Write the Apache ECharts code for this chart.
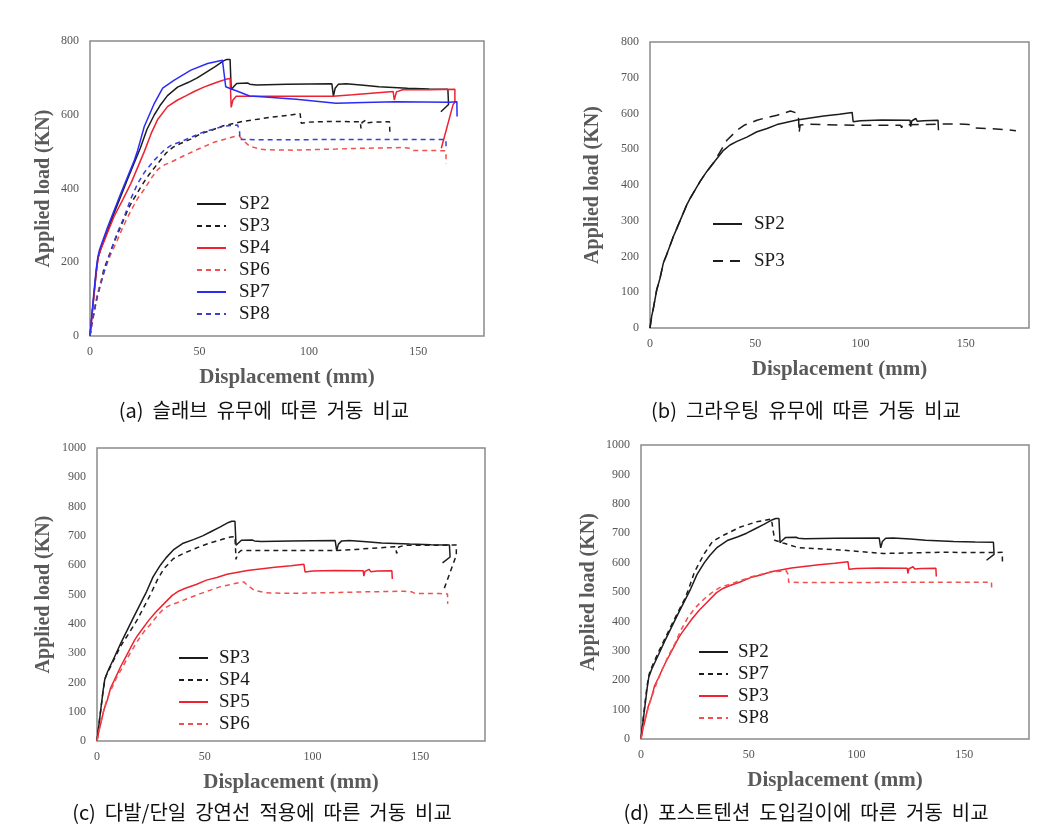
<!DOCTYPE html>
<html><head><meta charset="utf-8">
<script src="https://cdn.jsdelivr.net/npm/echarts@6/dist/echarts.min.js"></script>
<style>html,body{margin:0;padding:0;background:#fff}#c{width:1059px;height:834px}</style>
</head><body><div id="c"></div>
<script>
// ---- Data (displacement mm, load kN) ----
var curve750 = [[0,0],[0.8,50],[1.8,110],[2.8,170],[3.6,210],[5,238],[8,285],[11,333],[17,423],[23,510],[26,560],[29.4,600],[32,625],[35.4,652],[40,675],[45,688],[49,700],[53,715],[57,730],[61,746],[62.5,750],[64,750],[64.5,668],[65.5,675],[67,685],[72,686],[73,683],[76,681],[90,683],[110.5,684],[111.2,650],[112,672],[113.5,683],[117,684],[125,680],[132,676],[145,672],[155,670],[163.5,669],[163.8,628],[160.3,608]];
var curve700 = [[0,0],[0.8,50],[1.8,110],[2.8,170],[3.8,215],[5,235],[8,280],[11,324],[15,370],[18.7,414],[24.8,500],[28,550],[31,588],[35.4,622],[40,640],[44,652],[47.6,663],[52,675],[55.2,682],[59,690],[62,696],[64,698],[64.5,620],[65.3,640],[66.8,650],[80,650],[100,650],[111,650],[120,654],[130,659],[138.5,663],[139,640],[140,662],[142.8,668],[155,668],[166.7,669],[166.7,634],[165.9,628],[160.5,509]];
var curve600 = [[0,0],[0.8,33],[1.6,55],[3.2,107],[4.8,140],[6.3,181],[7.9,205],[11.1,256],[12.7,278],[17.5,345],[19,362],[23.8,410],[27,438],[30.2,462],[34.9,497],[38,512],[41.3,522],[46,534],[50.8,549],[55.6,558],[60.3,569],[69.8,582],[82.5,593],[90,598],[96,603],[96.5,577],[100,580],[110,582],[123.5,581],[123.8,563],[124.3,579],[126.2,586],[127,578],[130,580],[136.8,581],[137,553]];
var curve610 = [[0,0],[0.8,33],[1.6,55],[3.2,107],[4.8,140],[6.3,181],[7.9,205],[11.1,256],[12.7,278],[17.5,345],[19,362],[23.8,410],[27,438],[30.2,462],[33,490],[36.5,525],[41.3,553],[45,568],[50.8,581],[55,588],[60.3,595],[64,602],[66.7,607],[70.3,600],[70.6,583],[70.8,545],[71.3,568],[75,570],[96.8,567],[119,567],[119.5,560],[120,568],[136.5,570],[145,571],[151.6,569],[154,560],[160,558],[168.3,555],[173.8,552]];
var curve545 = [[0,0],[1.5,55],[3,100],[4.5,140],[6.2,170],[9,215],[12.4,259],[15,295],[18.6,339],[22,375],[24.8,398],[28,428],[31,452],[34,464],[37.2,472],[43.3,490],[48,503],[52.6,515],[57,526],[61.9,534],[66,541],[68.1,543],[70,530],[72.9,515],[77.4,507],[80.5,505],[92.9,504],[112.5,507],[123.8,509],[142.4,511],[146,509],[147.8,503],[158.9,503],[162.6,502],[162.7,468]];
var curve748 = [[0,0],[0.8,55],[1.8,120],[2.8,180],[3.6,215],[4.3,233],[8.1,296],[14.1,387],[20.3,477],[21.8,504],[24.8,568],[29.4,631],[33.2,672],[38.5,694],[46.1,721],[53.7,739],[60.5,748],[61.2,745],[62,676],[65.8,667],[66.8,665],[72.9,651],[80,648],[94.2,642],[112.4,631],[125,633],[139.8,635],[164.1,634],[167.6,635],[167.7,595]];
var curve572 = [[0,0],[1,40],[2,70],[3.5,110],[5,143],[7,185],[9.6,233],[12.5,280],[15.7,324],[18.5,370],[21.8,414],[25,445],[29.4,477],[33.9,504],[37,517],[41.5,527],[47,541],[52.2,554],[57,562],[61.3,569],[67.4,572],[68.3,559],[68.5,533],[80,532],[120,533],[158,533],[162.6,533],[162.7,505]];

var namesA = ['SP2','SP3','SP4','SP6','SP7','SP8'];
var namesB = ['SP2','SP3'];
var namesC = ['SP3','SP4','SP5','SP6'];
var namesD = ['SP2','SP7','SP3','SP8'];
var captions = ['(a)  슬래브  유무에  따른  거동  비교','(b)  그라우팅  유무에  따른  거동  비교','(c)  다발/단일  강연선  적용에  따른  거동  비교','(d)  포스트텐션  도입길이에  따른  거동  비교'];
var xMax = 180, xStep = 50;
var yMaxes = [800, 800, 1000, 1000];
var ySteps = [200, 100, 100, 100];

// ---- Styling ----
var BLACK = '#1c1c1c', RED = '#ee2230', RED2 = '#f05050', BLUE = '#2b2bf5', BLUE2 = '#3c3cd8';
var SHORT = [5, 4], LONG = [10, 7];
var serif = 'Liberation Serif';

var panels = [
  {grid:{left:90, top:41, width:394, height:295}, gap:36, legend:{left:196, top:194, gap:2, pad:8},
   names:namesA, curves:[curve750,curve600,curve700,curve545,curve748,curve572],
   colors:[BLACK,BLACK,RED,RED2,BLUE,BLUE2], types:['solid',SHORT,'solid',SHORT,'solid',SHORT]},
  {grid:{left:650, top:42, width:379, height:286}, gap:47, legend:{left:712, top:214, gap:17, pad:7},
   names:namesB, curves:[curve600,curve610],
   colors:[BLACK,BLACK], types:['solid',LONG]},
  {grid:{left:97, top:448, width:388, height:293}, gap:43, legend:{left:178, top:648, gap:2, pad:6},
   names:namesC, curves:[curve750,curve700,curve600,curve545],
   colors:[BLACK,BLACK,RED,RED2], types:['solid',SHORT,'solid',SHORT]},
  {grid:{left:641, top:445, width:388, height:294}, gap:42, legend:{left:698, top:642, gap:2, pad:5},
   names:namesD, curves:[curve750,curve748,curve600,curve572],
   colors:[BLACK,BLACK,RED,RED2], types:['solid',SHORT,'solid',SHORT]}
];

var grids = [], xAxes = [], yAxes = [], series = [], legends = [], graphics = [];
var tags = ['a','b','c','d'];
var plain = function (v) { return String(v); };
panels.forEach(function (p, i) {
  grids.push(Object.assign({show:true, borderColor:'#8a8a8a', borderWidth:1.5, backgroundColor:'#fff'}, p.grid));
  xAxes.push({type:'value', gridIndex:i, min:0, max:xMax, interval:xStep,
    name:'Displacement (mm)', nameLocation:'middle', nameGap:31,
    nameTextStyle:{fontFamily:serif, fontWeight:'bold', fontSize:21, color:'#5a5a5a'},
    axisLine:{show:false}, axisTick:{show:false}, splitLine:{show:false},
    axisLabel:{showMaxLabel:false, margin:10, fontFamily:serif, fontSize:12, color:'#555', formatter:plain}});
  yAxes.push({type:'value', gridIndex:i, min:0, max:yMaxes[i], interval:ySteps[i],
    name:'Applied load (KN)', nameLocation:'middle', nameGap:p.gap,
    nameTextStyle:{fontFamily:serif, fontWeight:'bold', fontSize:20, color:'#5a5a5a'},
    axisLine:{show:false}, axisTick:{show:false}, splitLine:{show:false},
    axisLabel:{margin:11, fontFamily:serif, fontSize:12, color:'#555', formatter:plain}});
  var ln = [];
  p.names.forEach(function (n, k) {
    var id = tags[i] + '_' + n;
    ln.push(id);
    series.push({type:'line', name:id, xAxisIndex:i, yAxisIndex:i, data:p.curves[k],
      symbol:'none', showSymbol:false, animation:false, z:2,
      lineStyle:{color:p.colors[k], width:1.5, type:p.types[k]},
      itemStyle:{color:p.colors[k]}});
  });
  legends.push({data:ln, orient:'vertical', left:p.legend.left, top:p.legend.top,
    itemWidth:29, itemHeight:12, itemGap:p.legend.gap, padding:0, selectedMode:false,
    itemStyle:{opacity:0, borderWidth:0},
    formatter:function (n) { return n.slice(2); },
    textStyle:{fontFamily:serif, fontSize:19, color:'#1a1a1a', lineHeight:20, padding:[0,0,0,p.legend.pad]}});
});

var capPos = [[264,410],[806,410],[262,812],[806,812]];
captions.forEach(function (t, i) {
  graphics.push({type:'text', x:capPos[i][0], y:capPos[i][1],
    style:{text:t, font:'20px "Noto Sans CJK KR"', fill:'#111', textAlign:'center', textVerticalAlign:'middle'}});
});

var chart = echarts.init(document.getElementById('c'), null, {renderer:'canvas'});
chart.setOption({
  animation:false, backgroundColor:'#fff',
  grid:grids, xAxis:xAxes, yAxis:yAxes, series:series, legend:legends, graphic:graphics
});
</script></body></html>
